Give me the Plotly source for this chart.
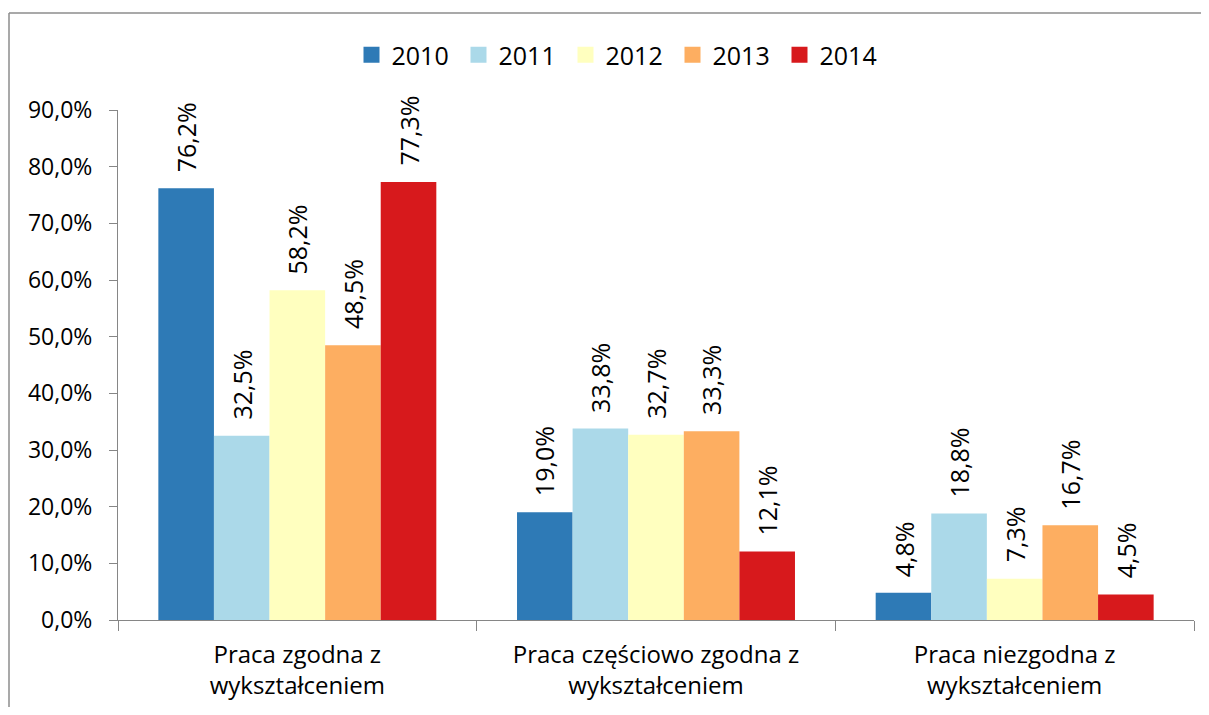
import plotly.graph_objects as go

categories = ["Praca zgodna z<br>wykształceniem",
              "Praca częściowo zgodna z<br>wykształceniem",
              "Praca niezgodna z<br>wykształceniem"]
years = ["2010", "2011", "2012", "2013", "2014"]
v2010 = [76.2, 19.0, 4.8]
v2011 = [32.5, 33.8, 18.8]
v2012 = [58.2, 32.7, 7.3]
v2013 = [48.5, 33.3, 16.7]
v2014 = [77.3, 12.1, 4.5]
series = [v2010, v2011, v2012, v2013, v2014]
colors = ["#2E7AB6", "#ABD9E9", "#FFFFBF", "#FDAE61", "#D7191C"]
y_ticks = [0, 10, 20, 30, 40, 50, 60, 70, 80, 90]
y_tick_labels = [f"{t:.1f}%".replace(".", ",") for t in y_ticks]

# page body has an 8px margin, so the figure is drawn at (8, 8); keep it inside the window
OFF = 8
W, H = 1209 - 2 * OFF, 715 - 2 * OFF
L, T = 118 - OFF, 110 - OFF
R = W + OFF - 1194
B = H + OFF - 620
bargap = 0.225
FONT = "Open Sans"

fig = go.Figure()
for yr, vals, col in zip(years, series, colors):
    fig.add_trace(go.Bar(name=yr, x=categories, y=vals, showlegend=False,
                         marker=dict(color=col, line=dict(width=0))))
# legend entries (square swatches)
for yr, col in zip(years, colors):
    fig.add_trace(go.Scatter(name=yr, x=[None], y=[None], mode="markers",
                             marker=dict(symbol="square", size=17, color=col), showlegend=True))

barw = (1 - bargap) / len(years)
annotations = []
for j, vals in enumerate(series):
    for i, v in enumerate(vals):
        annotations.append(dict(
            x=i + (j - (len(years) - 1) / 2) * barw, y=v, xref="x", yref="y",
            text=f"{v:.1f}%".replace(".", ","), textangle=-90, showarrow=False,
            xanchor="center", yanchor="bottom", yshift=14,
            font=dict(family=FONT, size=25, color="#000000")))

pw = W - L - R
ph = H - T - B
frame_x0 = (9 - OFF - L) / pw
frame_y1 = 1 + (T - (13 - OFF)) / ph
fig.update_layout(
    width=W, height=H,
    margin=dict(l=L, r=R, t=T, b=B, pad=0),
    paper_bgcolor="white", plot_bgcolor="white",
    barmode="group", bargap=bargap, bargroupgap=0,
    font=dict(family=FONT, size=24, color="#000000"),
    legend=dict(orientation="h", x=0.5 - 37 / pw, xanchor="center", y=1 + 55 / ph, yanchor="middle",
                font=dict(family=FONT, size=25), traceorder="normal", entrywidth=62),
    annotations=annotations,
    shapes=[
        dict(type="line", xref="paper", yref="paper", x0=frame_x0, x1=(W + 40 - L) / pw,
             y0=frame_y1, y1=frame_y1, line=dict(color="#8C8C8C", width=1.5), layer="below"),
        dict(type="line", xref="paper", yref="paper", x0=frame_x0, x1=frame_x0,
             y0=-(B + 40) / ph, y1=frame_y1, line=dict(color="#8C8C8C", width=1.5), layer="below"),
    ],
)
fig.update_xaxes(showline=True, linecolor="#868686", linewidth=1, ticks="outside", tickson="boundaries",
                 ticklen=10, tickcolor="#868686", showgrid=False, ticklabelstandoff=13,
                 tickfont=dict(family=FONT, size=24))
fig.update_yaxes(range=[0, 90], tickvals=y_ticks, ticktext=y_tick_labels, showline=True,
                 linecolor="#868686", linewidth=1, ticks="outside", ticklen=8, tickcolor="#868686",
                 showgrid=False, zeroline=False, ticklabelstandoff=12,
                 tickfont=dict(family=FONT, size=23))
fig.write_html("out.html")
